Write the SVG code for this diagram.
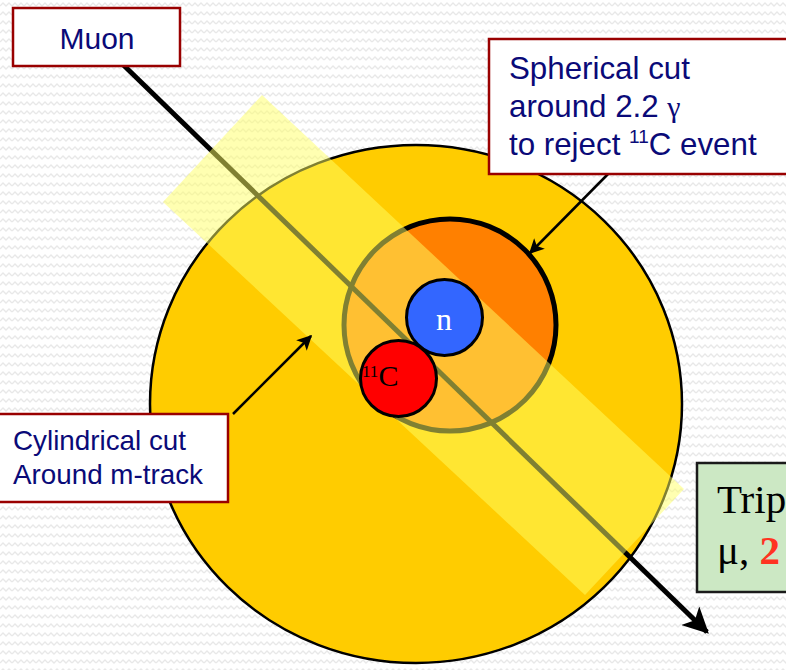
<svg xmlns="http://www.w3.org/2000/svg" width="786" height="670" viewBox="0 0 786 670">
<defs>
<pattern id="bg" width="12" height="9" patternUnits="userSpaceOnUse">
<path d="M0 6 L3 3 L6 6 L9 3 L12 6" fill="none" stroke="#e8e8e8" stroke-width="1.4"/>
</pattern>
<marker id="ah" viewBox="0 0 10 10" refX="9" refY="5" markerWidth="6" markerHeight="6" orient="auto" markerUnits="strokeWidth">
<path d="M0 0 L10 5 L0 10 L2.5 5 Z" fill="#000"/>
</marker>
<marker id="ahBig" viewBox="0 0 10 10" refX="9" refY="5" markerWidth="5.2" markerHeight="5.2" orient="auto" markerUnits="strokeWidth">
<path d="M0 0 L10 5 L0 10 L2.5 5 Z" fill="#000"/>
</marker>
<style>
.lbl{font-family:"Liberation Sans",Arial,sans-serif;fill:#0a0a78}
.box{fill:#fff;stroke:#990000;stroke-width:2.5}
.serif{font-family:"Liberation Serif","Times New Roman",serif}
</style>
</defs>
<rect width="786" height="670" fill="#fff"/>
<rect width="786" height="670" fill="url(#bg)"/>
<g id="detector">
<ellipse cx="416" cy="404" rx="266" ry="259" fill="#ffcc00" stroke="#000" stroke-width="2.5"/>
</g>
<g id="sphere">
<circle cx="450" cy="325" r="106" fill="#ff8000" stroke="#000" stroke-width="5"/>
</g>
<g id="connectors">
<line id="muon-track" x1="110" y1="52" x2="707" y2="632" stroke="#000" stroke-width="5" marker-end="url(#ahBig)"/>
</g>
<g id="cylinder">
<polygon points="163,202 262,95 684,489 585,595" fill="#ffff64" fill-opacity="0.5"/>
</g>
<g id="neutron">
<circle cx="444.5" cy="317.5" r="38" fill="#3366ff" stroke="#000" stroke-width="3"/>
<text x="444" y="330" class="serif" font-size="32" fill="#fff" text-anchor="middle">n</text>
</g>
<g id="carbon">
<circle cx="398.5" cy="378.5" r="38" fill="#ff0000" stroke="#000" stroke-width="3"/>
<text x="362" y="386" class="serif" font-size="30" fill="#000"><tspan font-size="17" dy="-9">11</tspan><tspan dy="9">C</tspan></text>
</g>
<g id="connectors-arrows">
<line x1="612" y1="170" x2="530" y2="253" stroke="#000" stroke-width="2.5" marker-end="url(#ah)"/>
<line x1="233" y1="414" x2="311" y2="336" stroke="#000" stroke-width="2.5" marker-end="url(#ah)"/>
</g>
<g id="muon-label">
<rect x="13" y="8" width="167" height="58" class="box"/>
<text x="97" y="49" class="lbl" font-size="30" text-anchor="middle">Muon</text>
</g>
<g id="spherical-label">
<rect x="489" y="39" width="310" height="135" class="box"/>
<text class="lbl" font-size="31.3">
<tspan x="509" y="79">Spherical cut</tspan>
<tspan x="509" y="117">around 2.2 <tspan class="serif" font-size="30">γ</tspan></tspan>
<tspan x="509" y="155">to reject <tspan font-size="19" dy="-12">11</tspan><tspan dy="12">C event</tspan></tspan>
</text>
</g>
<g id="cylindrical-label">
<rect x="-2" y="414" width="230" height="88" class="box"/>
<text class="lbl" font-size="27.8">
<tspan x="13" y="450">Cylindrical cut</tspan>
<tspan x="13" y="484">Around m-track</tspan>
</text>
</g>
<g id="triple-label">
<rect x="697" y="463" width="120" height="129" fill="#cce8c4" stroke="#1a1a1a" stroke-width="2.5"/>
<text class="serif" font-size="41" fill="#000">
<tspan x="717" y="513">Trip</tspan>
<tspan x="717" y="564">μ, <tspan fill="#ff3322" font-weight="bold">2</tspan></tspan>
</text>
</g>
</svg>
